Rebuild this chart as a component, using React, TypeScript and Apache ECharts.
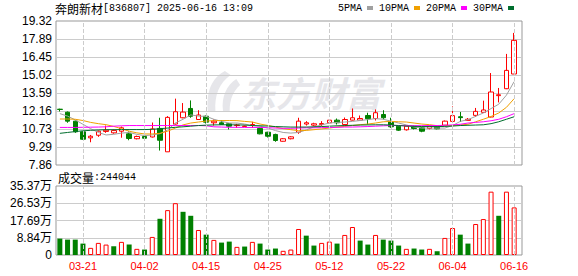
import React, { useEffect, useRef } from 'react';
import * as echarts from 'echarts';

const stockName = '奔朗新材';
const stockCode = '836807';
const stamp = '2025-06-16 13:09';
const volLabel = '成交量';

const dates = [
  '03-18', '03-19', '03-20', '03-21', '03-24', '03-25', '03-26', '03-27', '03-28', '03-31',
  '04-01', '04-02', '04-03', '04-07', '04-08', '04-09', '04-10', '04-11', '04-14', '04-15',
  '04-16', '04-17', '04-18', '04-21', '04-22', '04-23', '04-24', '04-25', '04-28', '04-29',
  '04-30', '05-06', '05-07', '05-08', '05-09', '05-12', '05-13', '05-14', '05-15', '05-16',
  '05-19', '05-20', '05-21', '05-22', '05-23', '05-26', '05-27', '05-28', '05-29', '05-30',
  '06-03', '06-04', '06-05', '06-06', '06-09', '06-10', '06-11', '06-12', '06-13', '06-16',
];

const opens = [
  12.30, 12.06, 11.35, 10.50, 10.02, 10.23, 10.53, 10.42, 10.55, 10.34,
  9.95, 10.13, 10.09, 10.77, 8.91, 11.12, 11.62, 12.36, 11.48, 11.74,
  11.22, 11.22, 11.14, 11.00, 10.92, 11.04, 10.77, 10.47, 10.29, 9.75,
  9.95, 10.47, 11.12, 11.03, 11.08, 11.22, 11.43, 11.08, 11.43, 11.43,
  11.80, 11.56, 11.88, 11.30, 10.95, 10.66, 10.90, 10.82, 10.77, 10.90,
  11.03, 11.33, 11.70, 11.41, 11.81, 12.05, 11.68, 13.38, 13.93, 15.10,
];
const closes = [
  12.28, 11.35, 10.50, 9.91, 10.15, 10.55, 10.63, 10.60, 10.82, 9.97,
  10.13, 9.99, 10.73, 9.83, 11.65, 12.10, 12.07, 11.74, 11.84, 11.27,
  11.35, 11.08, 10.95, 11.04, 10.96, 11.08, 10.34, 10.15, 9.81, 9.95,
  10.10, 11.35, 11.22, 11.14, 11.16, 11.43, 11.22, 11.48, 11.62, 11.56,
  11.54, 12.02, 11.62, 10.90, 10.63, 10.95, 10.77, 10.55, 10.95, 10.74,
  11.35, 11.79, 11.63, 11.50, 12.13, 12.24, 13.67, 13.45, 15.39, 17.78,
];
const lows = [
  12.12, 11.22, 10.42, 9.86, 9.67, 10.10, 10.42, 10.35, 10.03, 9.83,
  9.90, 9.95, 10.05, 9.01, 8.91, 11.08, 11.58, 11.62, 11.45, 11.16,
  11.00, 11.05, 10.69, 10.82, 10.88, 10.82, 10.30, 10.05, 9.71, 9.72,
  9.90, 10.34, 11.00, 10.96, 10.95, 11.20, 11.08, 11.00, 11.40, 11.40,
  11.08, 11.40, 11.48, 10.82, 10.57, 10.60, 10.69, 10.47, 10.70, 10.70,
  11.00, 11.20, 11.28, 11.38, 11.68, 12.02, 11.65, 12.84, 13.90, 15.10,
];
const highs = [
  12.34, 12.12, 11.40, 10.55, 10.25, 10.60, 11.00, 10.70, 10.92, 10.53,
  10.20, 10.16, 11.24, 11.62, 11.75, 13.14, 12.79, 13.00, 12.22, 11.80,
  11.48, 11.43, 11.20, 11.14, 11.00, 11.30, 10.85, 10.50, 10.35, 10.00,
  10.15, 11.62, 11.35, 11.22, 11.35, 11.45, 11.56, 11.64, 12.36, 11.80,
  12.02, 12.28, 12.22, 11.62, 11.00, 11.00, 10.98, 10.90, 11.00, 10.95,
  11.40, 12.52, 12.08, 11.60, 12.40, 12.98, 15.18, 13.99, 16.70, 18.37,
];
const volumes = [
  84000, 78900, 78900, 58500, 36600, 62000, 53400, 44800, 67200, 53400,
  31500, 28000, 92600, 185700, 230000, 265600, 221400, 201000, 128200, 104300,
  77300, 63600, 68700, 41700, 43300, 67200, 58500, 28000, 33100, 21400,
  28000, 133300, 99200, 48300, 62000, 68700, 58500, 102800, 143500, 73800,
  53400, 102800, 78900, 73800, 48300, 31500, 33100, 28000, 31500, 19300,
  87500, 138400, 104300, 58500, 158800, 184200, 324700, 201000, 324700, 244044,
];
const ma5 = [
  11.95, 11.75, 11.45, 11.1, 10.75, 10.45, 10.25, 10.3, 10.4, 10.45,
  10.3, 10.2, 10.25, 10.35, 10.65, 11.2, 11.5, 11.85, 11.75, 11.73,
  11.5, 11.33, 11.2, 11.2, 11.12, 11.0, 10.95, 10.8, 10.6, 10.45,
  10.4, 10.45, 10.65, 10.9, 11.05, 11.2, 11.25, 11.28, 11.33, 11.4,
  11.47, 11.55, 11.5, 11.35, 11.2, 11.05, 10.88, 10.8, 10.8, 10.8,
  10.8, 11.0, 11.33, 11.47, 11.73, 12.0, 12.35, 12.7, 13.42, 14.5,
];
const ma10 = [
  11.52, 11.52, 11.5, 11.4, 11.25, 11.15, 11.07, 10.93, 10.75, 10.55,
  10.42, 10.33, 10.33, 10.38, 10.55, 10.8, 11.05, 11.2, 11.28, 11.36,
  11.39, 11.4, 11.4, 11.39, 11.33, 11.28, 11.12, 11.01, 10.88, 10.75,
  10.67, 10.59, 10.61, 10.67, 10.73, 10.8, 10.88, 10.93, 11.0, 11.07,
  11.12, 11.2, 11.3, 11.33, 11.3, 11.28, 11.2, 11.12, 11.07, 10.99,
  10.99, 10.99, 11.05, 11.1, 11.3, 11.5, 11.72, 12.0, 12.45, 13.14,
];
const ma20 = [
  10.85, 10.85, 10.85, 10.86, 10.87, 10.88, 10.9, 10.95, 10.98, 11.0,
  11.0, 11.0, 11.0, 11.0, 11.0, 11.0, 11.0, 11.0, 11.0, 10.98,
  10.9, 10.88, 10.86, 10.86, 10.85, 10.85, 10.85, 10.83, 10.8, 10.78,
  10.78, 10.8, 10.82, 10.82, 10.83, 10.85, 10.86, 10.88, 10.88, 10.9,
  10.92, 10.95, 10.98, 11.0, 11.0, 10.99, 10.99, 10.99, 11.0, 11.0,
  11.02, 11.05, 11.1, 11.2, 11.25, 11.3, 11.38, 11.5, 11.7, 11.95,
];
const ma30 = [
  10.38, 10.45, 10.52, 10.58, 10.62, 10.65, 10.67, 10.67, 10.68, 10.68,
  10.68, 10.68, 10.7, 10.75, 10.8, 10.86, 10.9, 10.95, 11.0, 11.03,
  11.05, 11.06, 11.06, 11.05, 11.04, 11.0, 10.98, 10.96, 10.92, 10.9,
  10.88, 10.88, 10.88, 10.9, 10.92, 10.95, 10.98, 11.0, 11.02, 11.04,
  11.05, 11.06, 11.06, 11.04, 11.0, 10.96, 10.94, 10.92, 10.92, 10.92,
  10.93, 10.96, 11.0, 11.02, 11.04, 11.06, 11.15, 11.3, 11.5, 11.7,
];

const priceTicks = ['7.86', '9.29', '10.73', '12.16', '13.59', '15.02', '16.45', '17.89', '19.32'];
const volTicks = ['0', '8.84万', '17.69万', '26.53万', '35.37万'];
const xLabels = ['03-21', '04-02', '04-15', '04-25', '05-12', '05-22', '06-04', '06-16'];
const priceMin = 7.86;
const priceMax = 19.32;
const volMax = 353700;

const RED = '#ff0000';
const GREEN = '#008000';

let logoRegistered = false;
function registerLogo() {
  if (logoRegistered) return;
  logoRegistered = true;
  const d =
    'M22 0 C10 6 2 18 4 40 L12 40 C11 24 16 12 28 4 Z M34 8 C24 14 18 26 20 40 L27 40 C27 28 31 20 38 14 Z';
  echarts.graphic.registerShape('emLogo', echarts.graphic.extendPath(d, {}) as any);
}

export default function App() {
  const ref = useRef<HTMLDivElement>(null);

  useEffect(() => {
    if (!ref.current) return;
    registerLogo();
    const chart = echarts.init(ref.current, undefined, { renderer: 'svg' });

    const L = 56;
    const BGW = 466;
    const MW = 462;
    const asciiFont = 'Liberation Mono, DejaVu Sans Mono, monospace';
    const cjkFont = 'Noto Sans CJK SC, sans-serif';
    const numFont = 'Liberation Sans, Arial, sans-serif';

    const vLines = (xi: number, yi: number) => ({
      type: 'line',
      xAxisIndex: xi,
      yAxisIndex: yi,
      data: [],
      silent: true,
      z: 1,
      markLine: {
        silent: true,
        symbol: ['none', 'none'],
        label: { show: false },
        animation: false,
        lineStyle: { type: 'dashed', color: '#cccccc', width: 1 },
        data: xLabels.map((d) => ({ xAxis: d })),
      },
    });

    const maSeries = (name: string, data: number[], color: string) => ({
      type: 'line',
      name,
      data,
      xAxisIndex: 1,
      yAxisIndex: 1,
      showSymbol: false,
      symbol: 'none',
      color,
      lineStyle: { width: 1, color },
      z: 4,
      silent: true,
    });

    const option: any = {
      animation: false,
      backgroundColor: '#ffffff',
      legend: {
        data: ['5PMA', '10PMA', '20PMA', '30PMA'],
        left: 338,
        top: 3,
        align: 'right',
        icon: 'rect',
        itemWidth: 6,
        itemHeight: 4,
        itemGap: 6,
        selectedMode: false,
        padding: 0,
        textStyle: { fontSize: 10, fontFamily: asciiFont, color: '#000' },
      },
      grid: [
        { left: L, top: 21, width: BGW, height: 144, show: true, borderColor: '#999999', borderWidth: 1 },
        { left: L, top: 21, width: MW, height: 144 },
        { left: L, top: 186, width: BGW, height: 69, show: true, borderColor: '#999999', borderWidth: 1 },
        { left: L, top: 186, width: MW, height: 69 },
      ],
      xAxis: [
        { gridIndex: 0, type: 'value', min: 0, max: 1, show: false },
        { gridIndex: 1, type: 'category', data: dates, show: false, boundaryGap: true },
        { gridIndex: 2, type: 'value', min: 0, max: 1, show: false },
        {
          gridIndex: 3,
          type: 'category',
          data: dates,
          boundaryGap: true,
          axisLine: { show: false },
          axisTick: { show: false },
          splitLine: { show: false },
          axisLabel: {
            interval: (_i: number, v: string) => xLabels.includes(v),
            color: RED,
            fontSize: 11,
            fontFamily: numFont,
            margin: 5,
          },
        },
      ],
      yAxis: [
        {
          gridIndex: 0,
          type: 'value',
          min: 0,
          max: priceTicks.length - 1,
          interval: 1,
          axisLine: { show: false },
          axisTick: { show: false },
          axisLabel: {
            formatter: (v: number) => priceTicks[Math.round(v)],
            color: '#000',
            fontSize: 12,
            fontFamily: numFont,
            margin: 4,
          },
          splitLine: { show: true, showMinLine: false, showMaxLine: false, lineStyle: { color: '#cccccc', width: 1 } },
        },
        { gridIndex: 1, type: 'value', min: priceMin, max: priceMax, show: false, splitLine: { show: false } },
        {
          gridIndex: 2,
          type: 'value',
          min: 0,
          max: volTicks.length - 1,
          interval: 1,
          axisLine: { show: false },
          axisTick: { show: false },
          axisLabel: {
            formatter: (v: number) => volTicks[Math.round(v)],
            color: '#000',
            fontSize: 12,
            fontFamily: numFont + ', ' + cjkFont,
            margin: 4,
          },
          splitLine: { show: true, showMinLine: false, showMaxLine: false, lineStyle: { color: '#cccccc', width: 1 } },
        },
        { gridIndex: 3, type: 'value', min: 0, max: volMax, show: false, splitLine: { show: false } },
      ],
      graphic: [
        {
          type: 'emLogo',
          x: 204,
          y: 71,
          scaleX: 0.95,
          scaleY: 1,
          z: 0,
          silent: true,
          style: { fill: '#e6e6ea' },
        },
        {
          type: 'text',
          x: 241,
          y: 91,
          z: 0,
          silent: true,
          style: {
            text: '东方财富',
            fill: '#e6e6ea',
            fontSize: 35,
            fontWeight: 'bold',
            fontStyle: 'italic',
            fontFamily: cjkFont,
            verticalAlign: 'middle',
          },
        },
        {
          type: 'text',
          x: 55,
          y: 8,
          z: 10,
          style: {
            text: `{a|${stockName}}{b|[${stockCode}] ${stamp}}`,
            verticalAlign: 'middle',
            rich: {
              a: { fontSize: 12, fontFamily: cjkFont, fill: '#000' },
              b: { fontSize: 10, fontFamily: asciiFont, fill: '#000' },
            },
          },
        },
        {
          type: 'text',
          x: 58,
          y: 177,
          z: 10,
          style: {
            text: `{a|${volLabel}}{b|:${volumes[volumes.length - 1]}}`,
            verticalAlign: 'middle',
            rich: {
              a: { fontSize: 12, fontFamily: cjkFont, fill: '#000' },
              b: { fontSize: 10, fontFamily: asciiFont, fill: '#000' },
            },
          },
        },
      ],
      series: [
        vLines(1, 1),
        {
          type: 'candlestick',
          name: 'K',
          xAxisIndex: 1,
          yAxisIndex: 1,
          barWidth: 5,
          z: 3,
          silent: true,
          data: dates.map((_, i) => [opens[i], closes[i], lows[i], highs[i]]),
          itemStyle: {
            color: '#ffffff',
            color0: GREEN,
            borderColor: RED,
            borderColor0: GREEN,
            borderWidth: 1,
          },
        },
        maSeries('5PMA', ma5, '#a0a0a0'),
        maSeries('10PMA', ma10, '#f0a000'),
        maSeries('20PMA', ma20, '#ff00ff'),
        maSeries('30PMA', ma30, '#006e2e'),
        vLines(3, 3),
        {
          type: 'bar',
          name: 'VOL',
          xAxisIndex: 3,
          yAxisIndex: 3,
          barWidth: 5,
          z: 3,
          silent: true,
          data: volumes.map((v, i) => {
            const up = i === 0 ? closes[0] >= opens[0] : closes[i] >= closes[i - 1];
            return {
              value: v,
              itemStyle: up
                ? { color: '#ffffff', borderColor: RED, borderWidth: 1 }
                : { color: GREEN, borderColor: GREEN, borderWidth: 0 },
            };
          }),
        },
      ],
    };

    chart.setOption(option);
    return () => {
      chart.dispose();
    };
  }, []);

  return (
    <div
      ref={ref}
      style={{ position: 'absolute', left: 0, top: 0, width: 578, height: 276, background: '#fff' }}
    />
  );
}
